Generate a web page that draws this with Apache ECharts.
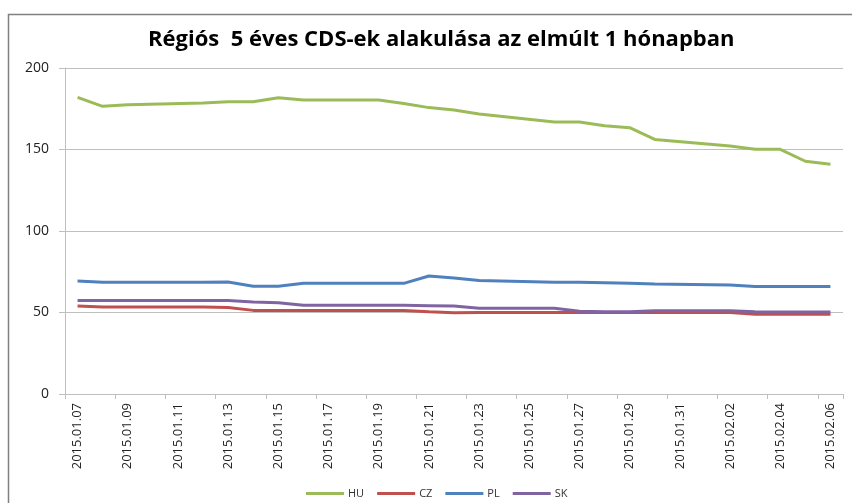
<!DOCTYPE html>
<html>
<head>
<meta charset="utf-8">
<script src="https://cdn.jsdelivr.net/npm/echarts@6/dist/echarts.min.js"></script>
<style>
html,body{margin:0;padding:0;background:#fff;}
#chart{width:852px;height:503px;}
</style>
</head>
<body>
<div id="chart"></div>
<script>
// Dates: 2015.01.07 .. 2015.02.06 (calendar days; weekends have no data)
const categories = [
  "2015.01.07","2015.01.08","2015.01.09","2015.01.10","2015.01.11","2015.01.12","2015.01.13",
  "2015.01.14","2015.01.15","2015.01.16","2015.01.17","2015.01.18","2015.01.19","2015.01.20",
  "2015.01.21","2015.01.22","2015.01.23","2015.01.24","2015.01.25","2015.01.26","2015.01.27",
  "2015.01.28","2015.01.29","2015.01.30","2015.01.31","2015.02.01","2015.02.02","2015.02.03",
  "2015.02.04","2015.02.05","2015.02.06"
];
const HU = [182, 176.5, 177.5, null, null, 178.6, 179.3, 179.3, 181.8, 180.4, null, null, 180.4, 178.2,
  175.7, 174.2, 171.8, null, null, 166.9, 166.9, 164.6, 163.4, 156.2, null, null, 152.1, 150.1, 150.1, 142.8, 140.9];
const CZ = [54, 53.4, 53.4, null, null, 53.4, 53, 51.3, 51.3, 51.3, null, null, 51.3, 51.3,
  50.4, 49.9, 50, null, null, 50, 50, 50, 50, 50, null, null, 50, 49, 49, 49, 49];
const PL = [69.3, 68.5, 68.5, null, null, 68.6, 68.7, 66.1, 66.1, 67.9, null, null, 67.9, 67.9,
  72.4, 71.2, 69.7, null, null, 68.5, 68.5, 68.3, 68, 67.5, null, null, 66.9, 65.9, 65.9, 65.9, 65.9];
const SK = [57.3, 57.3, 57.3, null, null, 57.3, 57.3, 56.4, 56, 54.4, null, null, 54.4, 54.4,
  54.2, 54, 52.6, null, null, 52.6, 50.7, 50.5, 50.5, 51.1, null, null, 51.1, 50.5, 50.3, 50.3, 50.3];
const seriesNames = ["HU", "CZ", "PL", "SK"];
const yTicks = [0, 50, 100, 150, 200];
const titleText = "Régiós  5 éves CDS-ek alakulása az elmúlt 1 hónapban";

const colors = ["#9BBB59", "#C0504D", "#4F81BD", "#8064A2"];
const values = [HU, CZ, PL, SK];
const FONT = "'Open Sans', Lato, sans-serif";

const chart = echarts.init(document.getElementById('chart'), null, {renderer: 'canvas'});
chart.setOption({
  animation: false,
  backgroundColor: '#fff',
  color: colors,
  title: {
    text: titleText,
    left: 143,
    top: 24,
    textStyle: {fontFamily: FONT, fontSize: 22, fontWeight: 'bold', color: '#000'}
  },
  graphic: [{
    type: 'rect',
    shape: {x: 8.5, y: 14.5, width: 900, height: 600},
    style: {fill: 'none', stroke: '#808080', lineWidth: 1.5},
    silent: true,
    z: -1
  }],
  legend: {
    data: seriesNames,
    left: 301,
    top: 483,
    itemWidth: 38,
    itemHeight: 3,
    itemGap: 13,
    icon: 'rect',
    textStyle: {fontFamily: FONT, fontSize: 11, color: '#333', padding: [0, 0, 0, -1]}
  },
  grid: {left: 65, right: 9, top: 68, bottom: 109, containLabel: false},
  xAxis: {
    type: 'category',
    data: categories,
    boundaryGap: true,
    axisLine: {lineStyle: {color: '#bfbfbf', width: 1}},
    axisTick: {show: true, interval: 1, length: 5, lineStyle: {color: '#bfbfbf'}},
    axisLabel: {
      interval: 1,
      rotate: 90,
      margin: 9,
      fontFamily: FONT,
      fontSize: 13,
      color: '#222'
    }
  },
  yAxis: {
    type: 'value',
    min: yTicks[0],
    max: yTicks[yTicks.length - 1],
    interval: 50,
    axisLine: {show: true, lineStyle: {color: '#bfbfbf'}},
    axisTick: {show: true, length: 6, lineStyle: {color: '#bfbfbf'}},
    splitLine: {lineStyle: {color: '#bfbfbf', width: 1.2}},
    axisLabel: {margin: 16, fontFamily: FONT, fontSize: 14, color: '#222'}
  },
  series: seriesNames.map((n, k) => ({
    name: n,
    type: 'line',
    data: values[k],
    connectNulls: true,
    symbol: 'none',
    lineStyle: {width: 3, color: colors[k]},
    itemStyle: {color: colors[k]}
  }))
});
</script>
</body>
</html>
